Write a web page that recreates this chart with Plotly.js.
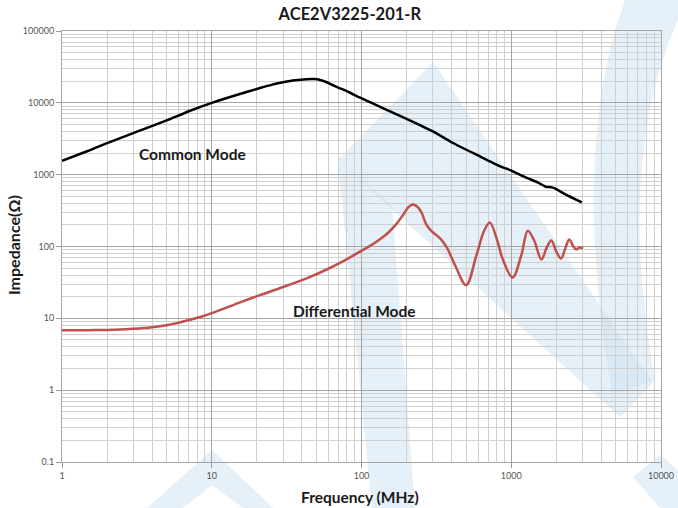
<!DOCTYPE html>
<html>
<head>
<meta charset="utf-8">
<script src="https://cdn.plot.ly/plotly-3.0.1.min.js"></script>
<style>html,body{margin:0;padding:0;background:#fff;}#chart{width:678px;height:508px;} text{font-variant-ligatures:none;}</style>
</head>
<body>
<div id="chart"></div>
<script>
// ---- data ----
var cmFreq = [1, 1.5, 2, 3.3, 5, 7.1, 10, 15.4, 20, 25, 30, 36, 43, 48, 53, 58, 63, 70, 80, 97, 140, 200, 300, 405, 600, 830, 1000, 1260, 1500, 1700, 1870, 2000, 2300, 2960];
var cmZ    = [1560, 2150, 2750, 4100, 5700, 7700, 10000, 13300, 15600, 17800, 19300, 20600, 21300, 21400, 20800, 19500, 18000, 16300, 14500, 11900, 8400, 6000, 4000, 2780, 1850, 1330, 1140, 910, 780, 680, 665, 630, 530, 410];

var dmFreq = [1, 1.5, 2, 3, 4, 5, 6, 7.1, 8.5, 10, 15, 20.9, 30, 45, 60, 75, 97, 115, 132, 150, 170, 190, 205, 219, 235, 251, 270, 290, 306, 335, 371, 428, 500, 585, 660, 720, 807, 870, 1020, 1166, 1290, 1422, 1590, 1720, 1850, 2000, 2150, 2300, 2440, 2600, 2710, 2860, 3020];
var dmZ    = [6.8, 6.85, 6.9, 7.15, 7.5, 8.0, 8.7, 9.5, 10.5, 11.8, 16.3, 21, 27.3, 37.5, 49, 62, 84, 103, 125, 154, 203, 277, 350, 383, 360, 300, 205, 168, 152, 130, 97, 51, 29, 75, 167, 215, 121, 70, 37, 75, 166, 121, 66, 95, 121, 85, 68, 95, 125, 100, 91, 97, 94];

var xTickVals = [1, 10, 100, 1000, 10000];
var xTickText = ['1', '10', '100', '1000', '10000'];
var yTickVals = [0.1, 1, 10, 100, 1000, 10000, 100000];
var yTickText = ['0.1', '1', '10', '100', '1000', '10000', '100000'];

var titleText = 'ACE2V3225-201-R';
var xTitle = 'Frequency (MHz)';
var yTitle = 'Impedance(Ω)';
var cmLabel = 'Common Mode';
var dmLabel = 'Differential Mode';

// minor grid positions (2..9 within each decade)
function minorVals(lo, hi) {
  var out = [];
  for (var e = lo; e < hi; e++) {
    for (var k = 2; k <= 9; k++) out.push(k * Math.pow(10, e));
  }
  return out;
}

// watermark helper: pixel -> paper
var L = 62, T = 31, W = 599, H = 431;
function P(px, py) { return ((px - L) / W).toFixed(4) + ',' + ((T + H - py) / H).toFixed(4); }
function poly(pts) {
  return 'M' + pts.map(function (p) { return P(p[0], p[1]); }).join(' L') + ' Z';
}
var wmColor = 'rgba(200,222,240,0.45)';
var shapes = [
  {type: 'path', xref: 'paper', yref: 'paper', layer: 'below', line: {width: 0}, fillcolor: wmColor,
   path: poly([[338,160],[433,62],[653,383],[620,417]])},
  {type: 'path', xref: 'paper', yref: 'paper', layer: 'below', line: {width: 0}, fillcolor: wmColor,
   path: poly([[338,160],[392,205],[415,508],[372,508]])},
  {type: 'path', xref: 'paper', yref: 'paper', layer: 'below', line: {width: 0}, fillcolor: wmColor,
   path: 'M' + P(625,0) + ' Q' + P(570,150) + ' ' + P(612,395) + ' L' + P(655,380) +
         ' Q' + P(615,160) + ' ' + P(678,20) + ' L' + P(678,0) + ' Z'},
  {type: 'path', xref: 'paper', yref: 'paper', layer: 'below', line: {width: 0}, fillcolor: wmColor,
   path: poly([[147,508],[212,450],[273,508],[243,508],[212,485],[183,508]])},
  {type: 'path', xref: 'paper', yref: 'paper', layer: 'below', line: {width: 0}, fillcolor: wmColor,
   path: poly([[633,477],[660,455],[678,470],[678,508],[660,508]])}
];

var traces = [
  {x: cmFreq, y: cmZ, type: 'scatter', mode: 'lines', name: cmLabel,
   line: {color: '#000000', width: 2.5, shape: 'spline', smoothing: 0.5}, hoverinfo: 'x+y'},
  {x: dmFreq, y: dmZ, type: 'scatter', mode: 'lines', name: dmLabel,
   line: {color: '#c0504d', width: 2.5, shape: 'spline', smoothing: 1}, hoverinfo: 'x+y'}
];

var fam = 'Lato, "Open Sans", sans-serif';
var tickFont = {family: 'Lato, "Liberation Sans", sans-serif', size: 9, color: '#555'};
var boldFont = {family: fam, size: 15.5, color: '#1a1a1a'};

var layout = {
  width: 678, height: 508,
  margin: {l: L, r: 678 - L - W, t: T, b: 508 - T - H, pad: 0},
  paper_bgcolor: '#ffffff',
  plot_bgcolor: 'rgba(0,0,0,0)',
  showlegend: false,
  title: {text: '<b>' + titleText + '</b>', x: 0.516, xanchor: 'center', y: 1 - 14 / 508, yanchor: 'middle',
          font: {family: fam, size: 16.5, color: '#1a1a1a'}},
  xaxis: {
    type: 'log', range: [0, 4], tickmode: 'array', tickvals: xTickVals, ticktext: xTickText,
    tickfont: tickFont, ticks: 'outside', ticklen: 5, tickcolor: '#999',
    showgrid: true, gridcolor: '#a6a6a6', gridwidth: 1,
    showline: true, linecolor: '#a6a6a6', linewidth: 1, mirror: true, zeroline: false,
    minor: {tickmode: 'array', tickvals: minorVals(0, 4), showgrid: true, gridcolor: '#cfcfcf', gridwidth: 1, ticks: ''}
  },
  yaxis: {
    type: 'log', range: [-1, 5], tickmode: 'array', tickvals: yTickVals, ticktext: yTickText,
    tickfont: tickFont, ticks: 'outside', ticklen: 5, tickcolor: '#999',
    showgrid: true, gridcolor: '#a6a6a6', gridwidth: 1,
    showline: true, linecolor: '#a6a6a6', linewidth: 1, mirror: true, zeroline: false,
    minor: {tickmode: 'array', tickvals: minorVals(-1, 5), showgrid: true, gridcolor: '#cfcfcf', gridwidth: 1, ticks: ''}
  },
  shapes: shapes,
  annotations: [
    {text: '<b>' + xTitle + '</b>', xref: 'paper', yref: 'paper', x: (360 - L) / W, y: (T + H - 497) / H,
     xanchor: 'center', yanchor: 'middle', showarrow: false, font: {family: fam, size: 15.5, color: '#1a1a1a'}},
    {text: '<b>' + yTitle + '</b>', xref: 'paper', yref: 'paper', x: (14 - L) / W, y: (T + H - 245) / H,
     xanchor: 'center', yanchor: 'middle', showarrow: false, textangle: -90, font: {family: fam, size: 16, color: '#1a1a1a'}},
    {text: '<b>' + cmLabel + '</b>', xref: 'paper', yref: 'paper', x: (192 - L) / W, y: (T + H - 154) / H,
     xanchor: 'center', yanchor: 'middle', showarrow: false, font: boldFont},
    {text: '<b>' + dmLabel + '</b>', xref: 'paper', yref: 'paper', x: (354 - L) / W, y: (T + H - 311) / H,
     xanchor: 'center', yanchor: 'middle', showarrow: false, font: boldFont}
  ]
};

Plotly.newPlot('chart', traces, layout, {displayModeBar: false, staticPlot: true});
</script>
</body>
</html>
